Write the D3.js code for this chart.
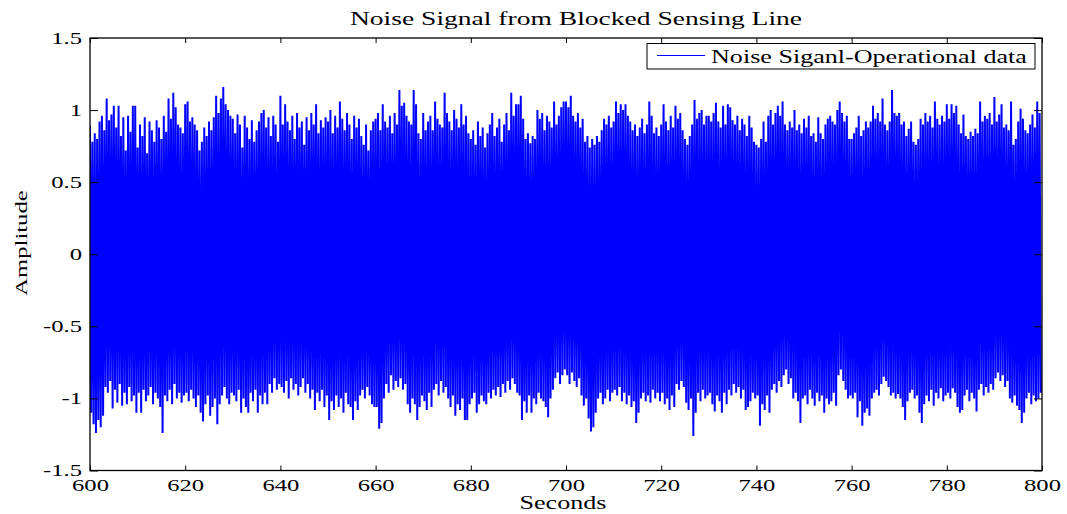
<!DOCTYPE html>
<html>
<head>
<meta charset="utf-8">
<script src="https://cdn.jsdelivr.net/npm/d3@7"></script>
<style>
  body { margin: 0; background: #fff; }
  svg { display: block; }
  text { font-family: "Liberation Serif", "Times New Roman", serif; fill: #000; }
</style>
</head>
<body>
<svg id="chart" width="1067" height="514"></svg>
<script>
// Sampled noise record: each half-second slot holds the positive swing
// followed by the negative swing of the sensing-line signal.
const timeStart = 600;
const timeStep = 0.5;

const upperPeaks = [
  0.89,0.78,0.84,0.80,0.92,0.96,0.86,1.08,0.93,0.97,1.03,0.88,1.03,0.82,0.95,0.72,0.96,0.85,1.03,1.03,
  0.74,0.90,0.82,0.95,0.70,0.92,0.86,0.78,0.93,0.88,0.80,0.96,0.85,1.08,0.94,1.12,1.02,0.90,0.88,0.84,
  1.04,1.06,0.92,0.95,0.90,0.86,0.72,0.78,0.88,0.82,0.92,0.86,0.95,1.10,0.98,1.08,1.16,1.04,1.00,0.96,
  0.94,0.84,0.97,0.90,0.74,0.96,0.88,0.80,0.93,0.78,0.86,0.92,0.98,1.00,0.88,0.95,0.82,0.96,0.90,0.78,
  1.10,0.90,1.04,0.92,0.86,0.96,0.80,0.98,0.88,0.92,0.76,0.95,0.86,0.98,0.90,1.04,0.84,0.93,0.88,0.95,
  0.92,1.00,0.84,0.96,0.88,1.06,0.94,0.86,0.98,0.90,0.80,0.96,0.88,0.94,0.82,0.76,0.90,0.72,0.86,0.92,
  0.94,0.98,0.86,1.04,0.92,0.88,0.96,0.84,0.98,0.90,1.14,1.03,1.05,0.96,0.92,0.90,1.14,1.04,0.84,0.80,
  0.98,0.86,0.92,0.96,0.86,1.06,0.94,0.90,0.88,1.12,0.98,0.92,0.86,1.00,0.94,0.88,1.04,0.90,0.96,0.84,
  0.80,0.86,0.76,0.92,0.82,0.88,0.74,0.84,0.90,0.98,0.82,0.88,0.94,0.78,0.90,0.98,0.86,1.12,0.96,1.04,
  1.04,1.10,0.94,0.80,0.84,0.77,0.82,0.80,1.00,0.94,0.98,0.86,0.96,0.92,0.88,1.06,0.90,0.96,1.02,1.06,
  1.06,1.02,1.10,0.96,0.92,0.98,0.88,0.94,0.78,0.82,0.74,0.80,0.76,0.82,0.78,0.86,0.94,0.90,0.96,0.88,
  0.92,1.06,0.98,1.04,1.00,1.04,0.96,0.92,0.86,0.90,0.82,0.88,0.94,0.84,0.90,1.06,0.96,0.84,0.88,0.82,
  0.90,1.04,0.92,0.86,0.96,0.88,1.03,0.94,0.98,0.86,0.80,0.76,0.82,0.90,1.07,0.94,0.98,1.00,0.90,0.96,
  0.96,0.92,0.98,1.05,0.92,0.88,1.03,0.90,1.04,1.02,0.93,0.90,0.96,0.86,0.94,0.90,0.82,0.96,0.88,0.78,
  0.76,0.74,0.80,0.92,0.78,0.96,1.00,0.90,0.98,1.03,0.96,1.06,0.90,0.86,0.92,0.88,1.00,0.86,0.90,0.84,
  0.94,0.88,0.96,0.82,0.84,0.78,0.95,0.84,0.80,0.90,0.94,0.96,0.92,0.90,1.00,1.06,0.98,0.92,0.96,0.80,
  0.80,0.84,0.88,0.96,0.82,0.86,0.92,0.88,0.92,1.03,0.94,0.98,0.92,1.08,0.90,0.86,0.92,1.14,0.98,0.96,
  0.98,0.90,0.92,0.82,0.87,0.92,0.78,0.76,0.80,0.94,0.90,0.98,0.92,0.96,0.88,1.06,0.94,0.90,0.96,0.92,
  1.04,0.94,1.04,0.98,1.03,0.90,0.84,0.97,0.82,0.80,0.85,0.82,0.87,0.84,1.06,0.92,0.96,0.94,0.98,0.90,
  1.09,0.92,0.97,1.04,0.88,0.90,0.86,1.06,0.76,0.80,0.92,1.01,0.94,0.86,0.84,0.90,0.97,0.88,1.06,0.98
];

const lowerPeaks = [
  -1.10,-1.18,-1.24,-1.15,-1.20,-1.12,-0.92,-0.96,-0.88,-1.07,-0.94,-1.03,-0.90,-1.05,-0.96,-1.04,-0.92,-1.02,-0.98,-1.10,
  -0.96,-1.10,-0.94,-1.02,-0.98,-0.92,-1.04,-0.96,-1.00,-1.06,-1.24,-0.98,-1.02,-0.94,-1.04,-0.90,-1.00,-0.96,-1.03,-0.98,
  -0.96,-1.02,-0.94,-1.00,-1.06,-0.98,-1.10,-1.16,-1.04,-0.98,-1.12,-1.06,-1.00,-1.18,-1.04,-0.98,-0.92,-1.00,-1.04,-0.96,
  -0.98,-1.02,-0.94,-1.10,-1.00,-1.06,-1.10,-0.96,-1.02,-0.94,-1.10,-0.98,-1.04,-0.96,-1.04,-0.90,-0.96,-0.86,-0.94,-0.90,
  -0.92,-0.96,-0.88,-1.00,-0.86,-0.94,-0.90,-0.98,-0.92,-0.86,-0.96,-0.90,-1.00,-0.94,-1.08,-0.96,-1.02,-0.94,-1.06,-0.98,
  -1.15,-1.02,-1.08,-0.98,-1.06,-1.00,-1.10,-0.96,-1.04,-1.06,-1.15,-1.02,-1.08,-0.98,-0.94,-1.00,-0.92,-0.98,-1.04,-1.06,
  -1.06,-1.21,-1.17,-1.00,-0.90,-0.96,-0.84,-0.94,-0.88,-0.92,-0.86,-0.94,-0.90,-1.04,-1.10,-1.00,-1.04,-1.15,-1.06,-0.98,
  -1.02,-1.08,-0.96,-1.06,-0.94,-0.90,-0.98,-0.88,-0.96,-0.92,-1.00,-1.06,-0.98,-1.12,-1.04,-1.08,-1.00,-1.15,-1.15,-1.04,
  -1.00,-0.96,-1.10,-1.04,-0.98,-1.02,-1.04,-0.96,-1.00,-0.94,-0.98,-0.92,-0.99,-0.90,-0.96,-0.88,-0.94,-0.86,-0.90,-0.96,
  -0.98,-1.15,-1.02,-1.10,-0.98,-1.10,-1.00,-1.04,-0.96,-1.00,-1.02,-1.06,-1.13,-1.00,-0.94,-0.86,-0.82,-0.90,-0.84,-0.80,
  -0.84,-0.90,-0.82,-0.88,-0.92,-0.86,-0.98,-1.05,-1.00,-1.14,-1.23,-1.20,-1.10,-1.00,-0.96,-1.04,-1.00,-0.94,-1.02,-0.96,
  -0.94,-0.98,-0.92,-1.02,-0.96,-1.04,-0.98,-1.06,-1.02,-1.17,-1.10,-1.00,-0.96,-1.02,-0.98,-1.03,-0.94,-1.00,-0.96,-1.02,
  -0.96,-1.04,-1.00,-1.08,-0.98,-1.06,-0.90,-0.94,-0.88,-0.92,-1.03,-1.08,-1.00,-1.26,-1.10,-0.96,-1.02,-0.94,-1.00,-0.98,
  -0.96,-1.04,-1.09,-0.98,-1.02,-1.10,-0.96,-1.04,-0.94,-0.98,-0.90,-0.96,-0.92,-1.00,-0.94,-1.08,-1.06,-1.02,-0.96,-1.00,
  -0.98,-1.19,-1.04,-1.08,-0.98,-1.10,-0.94,-0.90,-0.96,-0.88,-0.92,-0.84,-0.80,-0.90,-0.86,-1.00,-0.96,-1.02,-1.17,-1.00,
  -0.98,-1.04,-0.94,-1.00,-1.05,-0.96,-1.02,-0.98,-1.10,-1.00,-1.04,-1.02,-0.96,-1.05,-0.84,-0.80,-0.88,-0.94,-1.00,-0.98,
  -1.00,-0.96,-1.13,-1.02,-1.19,-1.10,-1.07,-1.12,-1.00,-0.96,-0.94,-0.98,-0.90,-0.85,-0.88,-0.92,-0.98,-0.96,-1.00,-0.97,
  -1.00,-1.06,-1.15,-1.02,-0.96,-0.94,-1.00,-0.98,-1.10,-1.17,-1.04,-0.98,-1.02,-0.94,-1.05,-0.96,-1.00,-0.93,-1.02,-0.98,
  -0.96,-1.00,-0.93,-0.96,-1.06,-1.10,-1.08,-0.98,-0.94,-1.02,-0.96,-1.00,-1.09,-0.94,-0.90,-0.98,-0.92,-0.96,-0.90,-0.94,
  -0.86,-0.82,-0.88,-0.84,-0.92,-0.88,-1.00,-1.03,-0.98,-1.05,-1.08,-1.17,-1.10,-1.00,-0.96,-1.04,-0.98,-1.02,-1.00,-0.96
];

const xTicks = [600, 620, 640, 660, 680, 700, 720, 740, 760, 780, 800];
const xTickLabels = ["600", "620", "640", "660", "680", "700", "720", "740", "760", "780", "800"];
const yTicks = [-1.5, -1, -0.5, 0, 0.5, 1, 1.5];
const yTickLabels = ["-1.5", "-1", "-0.5", "0", "0.5", "1", "1.5"];

const titleText = "Noise Signal from Blocked Sensing Line";
const xLabelText = "Seconds";
const yLabelText = "Amplitude";
const legendText = "Noise Siganl-Operational data";

// Layout
const plot = { left: 90, right: 1042, top: 38, bottom: 470.5 };
const stretch = 1.45;          // horizontal glyph stretch used for all text
const lineColor = "#0000ff";

const svg = d3.select("#chart");

const x = d3.scaleLinear().domain([600, 800]).range([plot.left, plot.right]);
const y = d3.scaleLinear().domain([-1.5, 1.5]).range([plot.bottom, plot.top]);

// Build the signal as alternating positive / negative swings.
const signal = [];
upperPeaks.forEach((hi, i) => {
  const t = timeStart + i * timeStep;
  signal.push([t, hi]);
  signal.push([t + timeStep / 2, lowerPeaks[i]]);
});

const clipId = "plot-clip";
svg.append("clipPath").attr("id", clipId)
  .append("rect")
  .attr("x", plot.left).attr("y", plot.top)
  .attr("width", plot.right - plot.left).attr("height", plot.bottom - plot.top);

svg.append("path")
  .datum(signal)
  .attr("clip-path", `url(#${clipId})`)
  .attr("fill", "none")
  .attr("stroke", lineColor)
  .attr("stroke-width", 2)
  .attr("stroke-linejoin", "bevel")
  .attr("d", d3.line().x(d => x(d[0])).y(d => y(d[1])));

// Helper: horizontally stretched text
function stretchedText(g, tx, ty, str, size, anchor) {
  return g.append("text")
    .attr("transform", `translate(${tx},${ty}) scale(${stretch},1)`)
    .attr("text-anchor", anchor)
    .attr("font-size", size)
    .text(str);
}

// Axes with inward ticks on all four sides
const tickFmtX = (d, i) => xTickLabels[i];
const tickFmtY = (d, i) => yTickLabels[i];

const axisBottom = svg.append("g").attr("transform", `translate(0,${plot.bottom})`)
  .call(d3.axisBottom(x).tickValues(xTicks).tickFormat(tickFmtX).tickSizeInner(-5).tickSizeOuter(0).tickPadding(8));
const axisTop = svg.append("g").attr("transform", `translate(0,${plot.top})`)
  .call(d3.axisTop(x).tickValues(xTicks).tickFormat("").tickSizeInner(-5).tickSizeOuter(0));
const axisLeft = svg.append("g").attr("transform", `translate(${plot.left},0)`)
  .call(d3.axisLeft(y).tickValues(yTicks).tickFormat(tickFmtY).tickSizeInner(-8).tickSizeOuter(0).tickPadding(7));
const axisRight = svg.append("g").attr("transform", `translate(${plot.right},0)`)
  .call(d3.axisRight(y).tickValues(yTicks).tickFormat("").tickSizeInner(-8).tickSizeOuter(0));

[axisBottom, axisTop, axisLeft, axisRight].forEach(a => {
  a.select(".domain").remove();
  a.selectAll(".tick line").attr("stroke", "#000").attr("stroke-width", 1);
});

axisBottom.selectAll(".tick text")
  .attr("font-family", "Liberation Serif, Times New Roman, serif")
  .attr("font-size", 17)
  .attr("fill", "#000")
  .attr("y", 0).attr("dy", 0)
  .attr("transform", `translate(0,20) scale(${stretch},1)`);

axisLeft.selectAll(".tick text")
  .attr("font-family", "Liberation Serif, Times New Roman, serif")
  .attr("font-size", 17)
  .attr("fill", "#000")
  .attr("x", 0).attr("dy", "0.32em")
  .attr("transform", `translate(-8,0) scale(${stretch},1)`);

// Plot frame
svg.append("rect")
  .attr("x", plot.left).attr("y", plot.top)
  .attr("width", plot.right - plot.left).attr("height", plot.bottom - plot.top)
  .attr("fill", "none").attr("stroke", "#000").attr("stroke-width", 1.3);

// Title and axis labels
stretchedText(svg, (plot.left + plot.right) / 2 + 10, 25, titleText, 19, "middle");
stretchedText(svg, (plot.left + plot.right) / 2 - 3, 509, xLabelText, 18, "middle");
svg.append("text")
  .attr("transform", `translate(27,243) rotate(-90) scale(${stretch},1)`)
  .attr("text-anchor", "middle")
  .attr("font-size", 17)
  .text(yLabelText);

// Legend
const legend = svg.append("g");
legend.append("rect")
  .attr("x", 647).attr("y", 43.5).attr("width", 388).attr("height", 25.5)
  .attr("fill", "#fff").attr("stroke", "#000").attr("stroke-width", 1);
legend.append("line")
  .attr("x1", 657).attr("x2", 705).attr("y1", 55.5).attr("y2", 55.5)
  .attr("stroke", lineColor).attr("stroke-width", 1);
stretchedText(legend, 711, 63, legendText, 18, "start");
</script>
</body>
</html>
